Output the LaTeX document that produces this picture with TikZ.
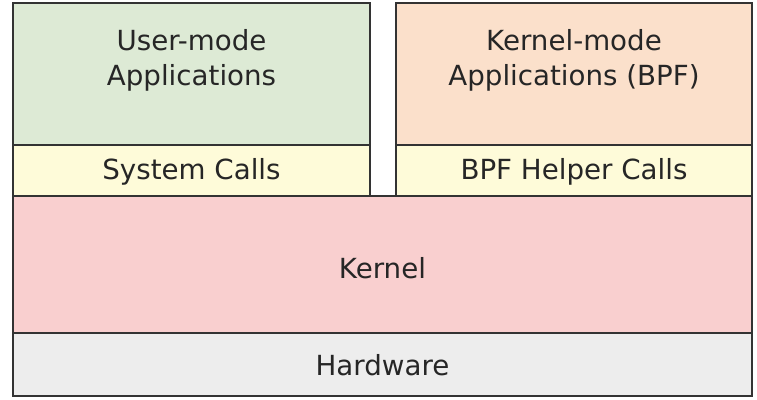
\documentclass[tikz,border=0pt]{standalone}
\usepackage{fontspec}
\setmainfont{DejaVu Sans}
\definecolor{ugreen}{HTML}{DDEAD5}
\definecolor{kpeach}{HTML}{FBE0CB}
\definecolor{cyellow}{HTML}{FEFBD9}
\definecolor{kpink}{HTML}{F9CFCF}
\definecolor{hgrey}{HTML}{EDEDED}
\definecolor{edge}{HTML}{333333}
\definecolor{txt}{HTML}{262626}
\begin{document}
\begin{tikzpicture}[x=1pt,y=-1pt,
  box/.style={draw=edge,line width=1.3pt},
  lbl/.style={text=txt,align=center,font=\fontsize{27.7}{35}\selectfont}]
\useasboundingbox (0,0) rectangle (757,399);
\fill[white] (0,0) rectangle (757,399);
\draw[box,fill=ugreen] (13,3) rectangle (370,145);
\node[lbl] (user) at (191.5,60) {User-mode\\Applications};
\draw[box,fill=cyellow] (13,145) rectangle (370,196);
\node[lbl] (sys) at (191.5,172) {System Calls};
\draw[box,fill=kpeach] (396,3) rectangle (752,145);
\node[lbl] (kapp) at (574,60) {Kernel-mode\\Applications (BPF)};
\draw[box,fill=cyellow] (396,145) rectangle (752,196);
\node[lbl] (helper) at (574,172) {BPF Helper Calls};
\draw[box,fill=kpink] (13,196) rectangle (752,333);
\node[lbl] (kernel) at (382.5,268) {Kernel};
\draw[box,fill=hgrey] (13,333) rectangle (752,396);
\node[lbl] (hw) at (382.5,365) {Hardware};
\end{tikzpicture}
\end{document}
